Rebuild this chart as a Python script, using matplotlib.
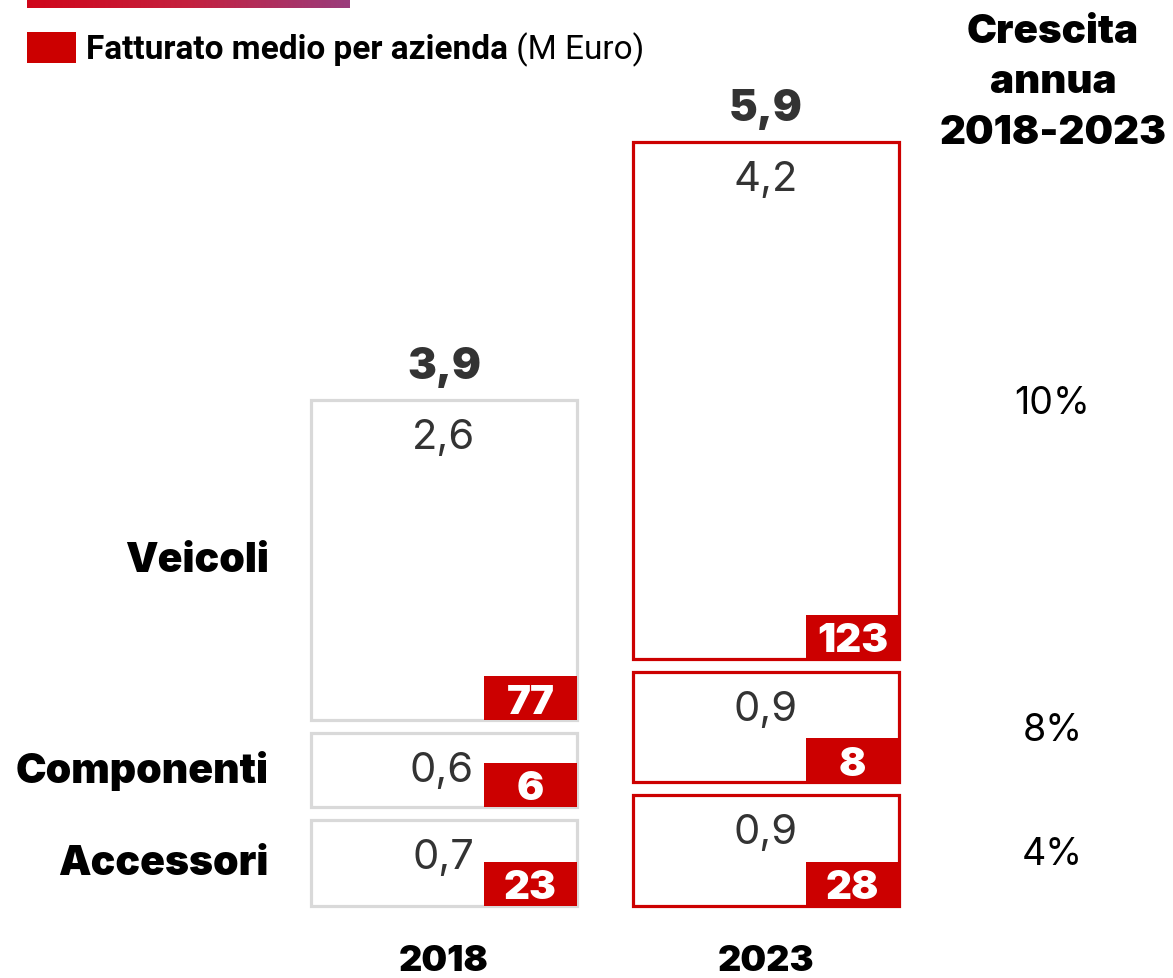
import matplotlib
matplotlib.use("Agg")
import matplotlib.pyplot as plt
from matplotlib.patches import Rectangle
from matplotlib.colors import LinearSegmentedColormap
import numpy as np

# data (M Euro, number of companies, annual growth)
categories = ["Accessori", "Componenti", "Veicoli"]
years = ["2018", "2023"]
revenue_2018 = [0.7, 0.6, 2.6]
revenue_2023 = [0.9, 0.9, 4.2]
totals = [3.9, 5.9]
companies_2018 = [23, 6, 77]
companies_2023 = [28, 8, 123]
growth = ["4%", "8%", "10%"]

RED = "#cc0000"
GREY = "#d9d9d9"
DARK = "#333333"
HEAVY = ["Inter", "DejaVu Sans"]
PLAIN = ["Inter", "DejaVu Sans"]
LEG = ["Roboto", "DejaVu Sans"]

W, H = 1173, 979
fig = plt.figure(figsize=(W / 100, H / 100), dpi=100)
ax = fig.add_axes([0, 0, 1, 1])
ax.axis("off")

# pixel mapping: category 0 at x=444, 1 at x=766; value 0 at y=907, 123 px per unit
px_x, px_y = 322.0, 123.0
ax.set_xlim(-444 / px_x, (W - 444) / px_x)
ax.set_ylim(-(H - 907) / px_y, 907 / px_y)

gap = 13 / px_y
box_w = 266 / px_x
badge_w = 93 / px_x
badge_h = 44 / px_y
pt = 0.72  # points per pixel


def fmt(v):
    return f"{v:.1f}".replace(".", ",")


for xi, (vals, counts, edge) in enumerate(
    [(revenue_2018, companies_2018, GREY), (revenue_2023, companies_2023, RED)]
):
    base = 0.0
    for ci, (v, n) in enumerate(zip(vals, counts)):
        left = xi - box_w / 2
        ax.add_patch(Rectangle((left, base), box_w, v, facecolor="white",
                               edgecolor=edge, lw=2.3, zorder=2))
        bx = xi + box_w / 2 - badge_w
        ax.add_patch(Rectangle((bx, base), badge_w, badge_h, facecolor=RED,
                               edgecolor="none", zorder=3))
        ax.text(bx + badge_w / 2, base + badge_h / 2, str(n), ha="center", va="center_baseline",
                color="white", fontsize=29, fontweight="black", family=HEAVY, zorder=4)
        top = base + v
        if v < 0.8 and xi == 0 and ci < 2:
            ax.annotate(fmt(v), (bx, top), xytext=(-10 * pt, -37 * pt), textcoords="offset points",
                        ha="right", va="center", fontsize=30, color=DARK, family=PLAIN)
        else:
            ax.annotate(fmt(v), (xi, top), xytext=(0, -37 * pt), textcoords="offset points",
                        ha="center", va="center", fontsize=30, color=DARK, family=PLAIN)
        # category labels on the left, growth on the right
        if xi == 0:
            ax.text(-0.545, base + v / 2, categories[ci], ha="right", va="center",
                    fontsize=29.5, fontweight="black", color="black", family=HEAVY)
        else:
            ax.text(1.89, base + v / 2 - 3 / px_y, growth[ci], ha="center", va="center",
                    fontsize=27, color="black", family=PLAIN)
        base = top + gap
    ax.annotate(fmt(totals[xi]), (xi, base - gap), xytext=(0, 34 * pt), textcoords="offset points",
                ha="center", va="center", fontsize=31, fontweight="black", color=DARK, family=HEAVY)
    ax.annotate(years[xi], (xi, 0), xytext=(0, -55 * pt), textcoords="offset points",
                ha="center", va="center", fontsize=26, fontweight="black", color="black", family=HEAVY)

fig.text(1053 / W, 1 - 83 / H, "Crescita\nannua\n2018-2023", ha="center", va="center",
         fontsize=29, fontweight="black", linespacing=1.47, family=HEAVY)

# legend
fig.patches.append(Rectangle((27 / W, 1 - 64 / H), 49 / W, 31 / H, facecolor=RED,
                             edgecolor="none", transform=fig.transFigure, figure=fig))
t1 = fig.text(86 / W, 1 - 50 / H, "Fatturato medio per azienda", ha="left", va="center",
              fontsize=24, fontweight="bold", family=LEG)
ax.annotate(" (M Euro)", xy=(1, 0.5), xycoords=t1, ha="left", va="center",
            fontsize=24, family=LEG)

# gradient bar at the top
gax = fig.add_axes([27 / W, 1 - 9 / H, 323 / W, 9 / H])
gax.axis("off")
cmap = LinearSegmentedColormap.from_list("bar", ["#d0061a", "#c4213f", "#9a3c7c"])
gax.imshow(np.linspace(0, 1, 256)[None, :], aspect="auto", cmap=cmap)

fig.savefig("out.png", dpi=100)
